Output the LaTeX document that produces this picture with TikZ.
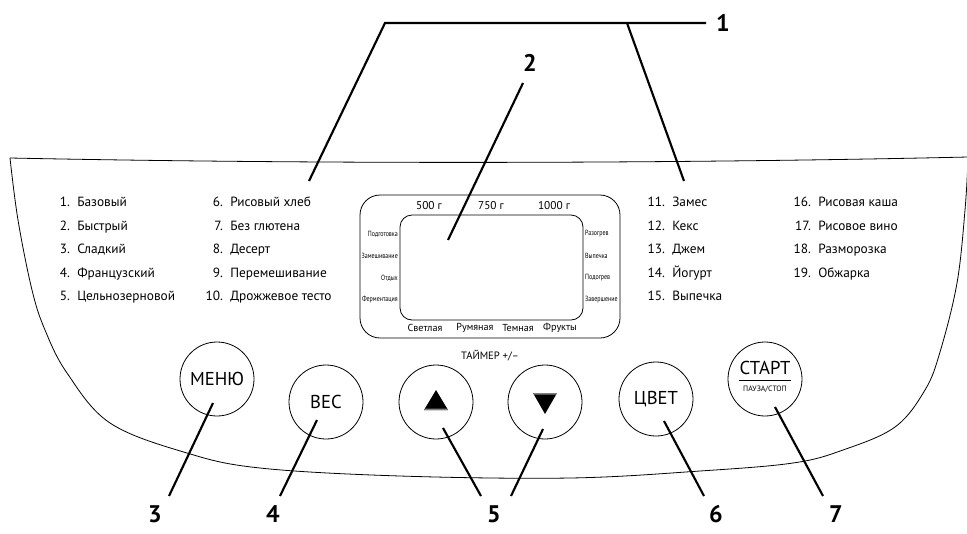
\documentclass[tikz,border=0pt]{standalone}
\usepackage{fontspec}
\setmainfont{PT Sans}
\begin{document}
\begin{tikzpicture}[x=0.75pt,y=-0.75pt,
  outline/.style={line width=0.6pt},
  leader/.style={line width=1.6pt},
  callout/.style={font=\bfseries\fontsize{18}{18}\selectfont, inner sep=0},
  item/.style={anchor=base west, inner sep=0, font=\fontsize{10}{11}\selectfont},
  btn/.style={circle, draw, line width=0.6pt, minimum size=55.5pt, inner sep=0, font=\fontsize{14}{15}\selectfont},
  tinylbl/.style={font=\fontsize{5.6}{6}\selectfont, inner sep=0, xscale=0.8},
  disp/.style={font=\fontsize{8.5}{9}\selectfont, inner sep=0},
  dispb/.style={font=\fontsize{7.6}{9}\selectfont, inner sep=0}]
\useasboundingbox (0,0) rectangle (967,533);

% panel outline
\draw[outline] (10,158) .. controls (300,164) and (660,164) .. (968,157);
\draw[outline] plot[smooth, tension=0.6] coordinates {(10,158) (18,220) (32,290) (45,330) (67,373) (110,423) (187,453) (260,468) (400,476) (570,478) (700,471) (793,463) (843,450) (895,427) (925,390) (940,352) (957,283) (965,210) (968,160)};

% menu lists
\newcommand{\itm}[2]{\llap{#1\hspace{5.5pt}}#2}
\foreach \n/\t [count=\i from 0] in {1./Базовый, 2./Быстрый, 3./Сладкий, 4./Французский, 5./Цельнозерновой}
  \node[item] (a\i) at (77,{206.5+23.5*\i}) {\itm{\n}{\t}};
\foreach \n/\t [count=\i from 0] in {6./Рисовый хлеб, 7./Без глютена, 8./Десерт, 9./Перемешивание, 10./Дрожжевое тесто}
  \node[item] (b\i) at (230,{206.5+23.5*\i}) {\itm{\n}{\t}};
\foreach \n/\t [count=\i from 0] in {11./Замес, 12./Кекс, 13./Джем, 14./Йогурт, 15./Выпечка}
  \node[item] (c\i) at (672,{206.5+23.5*\i}) {\itm{\n}{\t}};
\foreach \n/\t [count=\i from 0] in {16./Рисовая каша, 17./Рисовое вино, 18./Разморозка, 19./Обжарка}
  \node[item] (d\i) at (818,{206.5+23.5*\i}) {\itm{\n}{\t}};

% display
\node[draw, line width=0.6pt, rounded corners=15pt, minimum width=195pt, minimum height=107.25pt] (outer) at (490,266.5) {};
\node[draw, line width=0.6pt, rounded corners=9pt, minimum width=137.25pt, minimum height=78.75pt] (inner) at (491.5,267.5) {};
\node[disp] (w1) at (429,206) {500 г};
\node[disp] (w2) at (491,206) {750 г};
\node[disp] (w3) at (554,206) {1000 г};
\node[dispb] (c1) at (425,328) {Светлая};
\node[dispb] (c2) at (475,328) {Румяная};
\node[dispb] (c3) at (518,328) {Темная};
\node[dispb] (c4) at (560,328) {Фрукты};
\node[tinylbl, anchor=east] (s1) at (398,234) {Подготовка};
\node[tinylbl, anchor=east] (s2) at (398,256) {Замешивание};
\node[tinylbl, anchor=east] (s3) at (398,278) {Отдых};
\node[tinylbl, anchor=east] (s4) at (398,300) {Ферментация};
\node[tinylbl, anchor=west] (r1) at (585,234) {Разогрев};
\node[tinylbl, anchor=west] (r2) at (585,256) {Выпечка};
\node[tinylbl, anchor=west] (r3) at (585,278) {Подогрев};
\node[tinylbl, anchor=west] (r4) at (585,300) {Завершение};

% buttons
\node[btn] (menu) at (217,379) {МЕНЮ};
\node[btn] (ves) at (326,402) {ВЕС};
\node[btn] (up) at (436,402) {};
\node[btn] (down) at (545,402) {};
\node[btn] (cvet) at (656,399) {ЦВЕТ};
\node[btn] (start) at (765,379) {};
\node[font=\fontsize{14}{15}\selectfont, inner sep=0] (st1) at (765,368) {СТАРТ};
\node[font=\fontsize{5.8}{6}\selectfont, inner sep=0] (st2) at (765,389) {ПАУЗА/СТОП};
\draw[line width=0.6pt] (st1.south west |- 0,380) -- (st1.south east |- 0,380);
\node[font=\fontsize{8}{9}\selectfont, inner sep=0] (timer) at (490,356) {ТАЙМЕР +/–};
\fill[shift={(up.center)}] (-12,8) -- (12,8) -- (0,-12) -- cycle;
\fill[gray, shift={(up.center)}] (-11,6.5) -- (11,6.5) -- (12,8) -- (-12,8) -- cycle;
\fill[shift={(down.center)}] (-12,-9) -- (12,-9) -- (0,12) -- cycle;
\fill[gray, shift={(down.center)}] (-12,-9) -- (12,-9) -- (11,-7.5) -- (-11,-7.5) -- cycle;

% callout numbers
\node[callout] (n1) at (723,23) {1};
\node[callout] (n2) at (530,63) {2};
\node[callout] (n3) at (155,514) {3};
\node[callout] (n4) at (273,514) {4};
\node[callout] (n5) at (494,514) {5};
\node[callout] (n6) at (716,514) {6};
\node[callout] (n7) at (836,514) {7};

% leader end points
\coordinate (k1a) at (385,23);
\coordinate (k1b) at (706,23);
\coordinate (k1c) at (309,181);
\coordinate (k1d) at (627,23);
\coordinate (k1e) at (684,181);
\coordinate (k2a) at (523,83);
\coordinate (k2b) at (448,240);
\coordinate (k3a) at (213,403);
\coordinate (k3b) at (169,496);
\coordinate (k4a) at (317,420);
\coordinate (k4b) at (280,496);
\coordinate (k5a) at (443,428);
\coordinate (k5b) at (481,496);
\coordinate (k5c) at (543,429);
\coordinate (k5d) at (511,496);
\coordinate (k6a) at (664,421);
\coordinate (k6b) at (704,496);
\coordinate (k7a) at (775,407);
\coordinate (k7b) at (823,496);

\draw[leader] (k1c) -- (k1a) -- (k1b);
\draw[leader] (k1d) -- (k1e);
\draw[leader] (k2a) -- (k2b);
\draw[leader] (k3a) -- (k3b);
\draw[leader] (k4a) -- (k4b);
\draw[leader] (k5a) -- (k5b);
\draw[leader] (k5c) -- (k5d);
\draw[leader] (k6a) -- (k6b);
\draw[leader] (k7a) -- (k7b);
\end{tikzpicture}
\end{document}
